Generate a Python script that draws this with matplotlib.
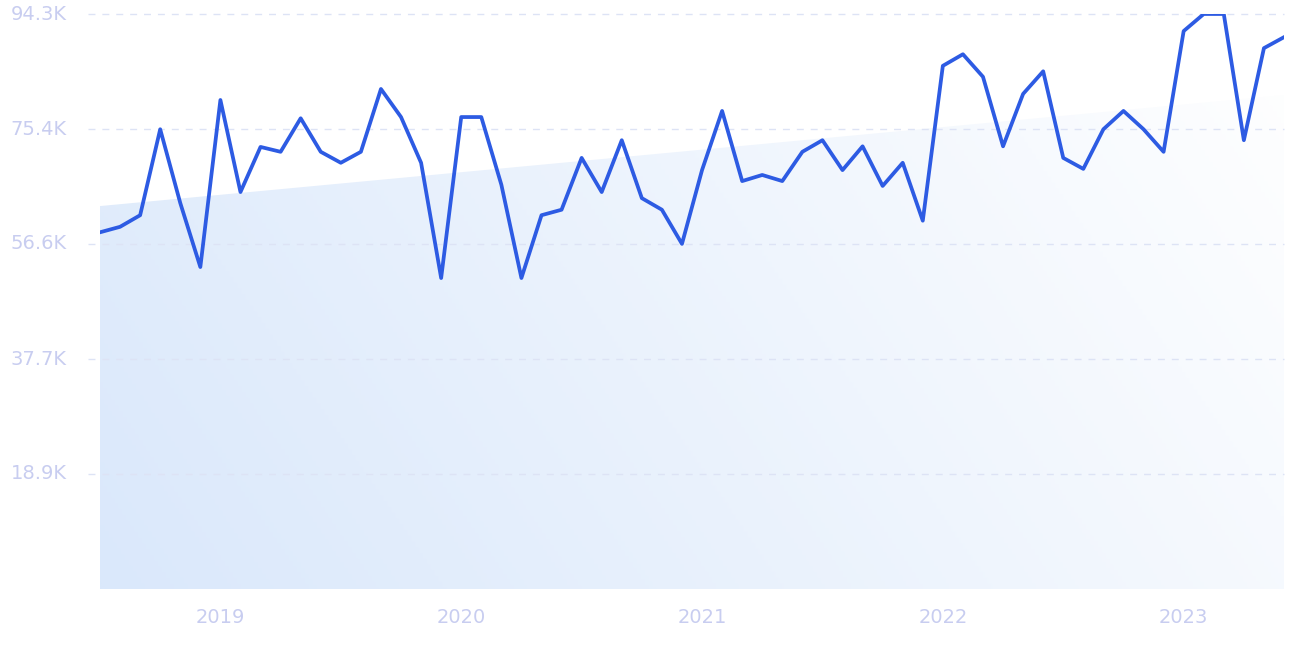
import matplotlib
matplotlib.use("Agg")
import matplotlib.pyplot as plt
import numpy as np
from matplotlib.colors import LinearSegmentedColormap

# monthly values (K), Jul 2018 .. Jun 2023
values = [58.5, 59.4, 61.3, 75.4, 63.3, 52.8, 80.2, 65.1, 72.5, 71.7,
          77.2, 71.7, 69.9, 71.7, 82.0, 77.4, 69.9, 51.0, 77.4, 77.4,
          66.3, 51.0, 61.3, 62.2, 70.7, 65.1, 73.6, 64.1, 62.2, 56.6,
          68.7, 78.4, 66.9, 67.9, 66.9, 71.7, 73.6, 68.7, 72.6, 66.1,
          69.9, 60.4, 85.8, 87.7, 84.0, 72.6, 81.2, 84.9, 70.7, 68.9,
          75.4, 78.4, 75.4, 71.7, 91.5, 94.3, 94.3, 73.6, 88.7, 90.5]
trend_start, trend_end = 62.8, 81.0
year_labels = ["2019", "2020", "2021", "2022", "2023"]
year_pos = [6, 18, 30, 42, 54]
y_ticks = [18.9, 37.7, 56.6, 75.4, 94.3]
y_labels = ["18.9K", "37.7K", "56.6K", "75.4K", "94.3K"]

x = np.arange(len(values))
fig = plt.figure(figsize=(12.9, 6.45), dpi=100)
ax = fig.add_axes([100 / 1290, 56 / 645, 1184 / 1290, 575 / 645])
xmax = len(values) - 1
ax.set_xlim(0, xmax)
ax.set_ylim(0, 94.3)

# gradient area under trend
cmap = LinearSegmentedColormap.from_list("g", ["#dae8fb", "#ffffff"])
gx, gy = np.meshgrid(np.linspace(0, 1, 300), np.linspace(0, 1, 300))
grad = 0.75 * gx + 0.25 * (1 - gy)
img = ax.imshow(grad, extent=[0, xmax, 0, 94.3], origin="upper", cmap=cmap,
                aspect="auto", zorder=0)
poly = plt.Polygon([(0, 0), (0, trend_start), (xmax, trend_end), (xmax, 0)],
                   transform=ax.transData, facecolor="none", edgecolor="none")
ax.add_patch(poly)
img.set_clip_path(poly)

for t in y_ticks:
    ax.axhline(t, xmin=-0.01, color="#dde3f5", linestyle=(0, (5, 5)),
               linewidth=1, zorder=1, clip_on=False)

ax.plot(x, values, color="#2d5be3", linewidth=2.7, zorder=3, solid_joinstyle="round")

for s in ax.spines.values():
    s.set_visible(False)
ax.set_yticks(y_ticks)
ax.set_yticklabels(y_labels)
ax.set_xticks(year_pos)
ax.set_xticklabels(year_labels)
ax.tick_params(length=0, colors="#c8cdf0", labelsize=14)
ax.tick_params(axis="x", pad=14)
ax.tick_params(axis="y", pad=24)
for lab in ax.get_yticklabels():
    lab.set_verticalalignment("center")

fig.savefig("out.png", dpi=100)
